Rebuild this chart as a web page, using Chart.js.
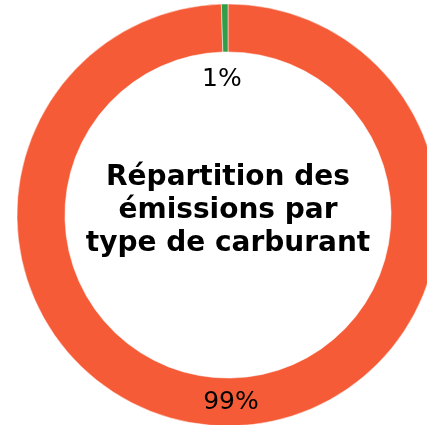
<!DOCTYPE html>
<html>
<head>
<meta charset="utf-8">
<script src="https://cdn.jsdelivr.net/npm/chart.js@4"></script>
<style>
  html, body { margin: 0; padding: 0; background: #fff; overflow: hidden; }
  #wrap { position: absolute; left: 0; top: 0; width: 456px; height: 430px; }
</style>
</head>
<body>
<div id="wrap"><canvas id="chart"></canvas></div>
<script>
// Data
const fuelTypes = ['Essence', 'Gazole'];
const shares = [99.5, 0.5];
const shareLabels = ['99%', '1%'];
const sliceColors = ['#F55B36', '#2F9E47'];
const titleLines = ['Répartition des', 'émissions par', 'type de carburant'];

// Draws the percent labels and the title in the hole
const labelsPlugin = {
  id: 'labels',
  afterDatasetsDraw(chart) {
    const ctx = chart.ctx;
    const meta = chart.getDatasetMeta(0);
    const total = shares.reduce((a, b) => a + b, 0);
    ctx.save();
    ctx.fillStyle = '#000';
    ctx.textAlign = 'center';
    ctx.textBaseline = 'middle';
    ctx.font = '25px "DejaVu Sans"';
    meta.data.forEach((arc, i) => {
      const mid = (arc.startAngle + arc.endAngle) / 2;
      let r = (arc.innerRadius + arc.outerRadius) / 2;
      let dx = 0;
      // small slices get their label inside the hole
      if (shares[i] / total < 0.05) { r = arc.innerRadius - 28; dx = -4; }
      ctx.fillText(shareLabels[i], arc.x + Math.cos(mid) * r + dx, arc.y + Math.sin(mid) * r);
    });

    const arc0 = meta.data[0];
    ctx.font = 'bold 28px "DejaVu Sans"';
    ctx.textBaseline = 'alphabetic';
    titleLines.forEach((line, i) => {
      ctx.fillText(line, arc0.x, arc0.y - 30 + i * 33);
    });
    ctx.restore();
  }
};

new Chart(document.getElementById('chart'), {
  type: 'doughnut',
  data: {
    labels: fuelTypes,
    datasets: [{
      data: shares,
      backgroundColor: sliceColors,
      borderColor: '#fff',
      borderWidth: 0.5,
      hoverOffset: 0
    }]
  },
  options: {
    responsive: true,
    maintainAspectRatio: false,
    animation: false,
    radius: 211,
    cutout: 166,
    layout: { padding: 0 },
    plugins: {
      legend: { display: false },
      tooltip: { enabled: false }
    }
  },
  plugins: [labelsPlugin]
});
</script>
</body>
</html>
